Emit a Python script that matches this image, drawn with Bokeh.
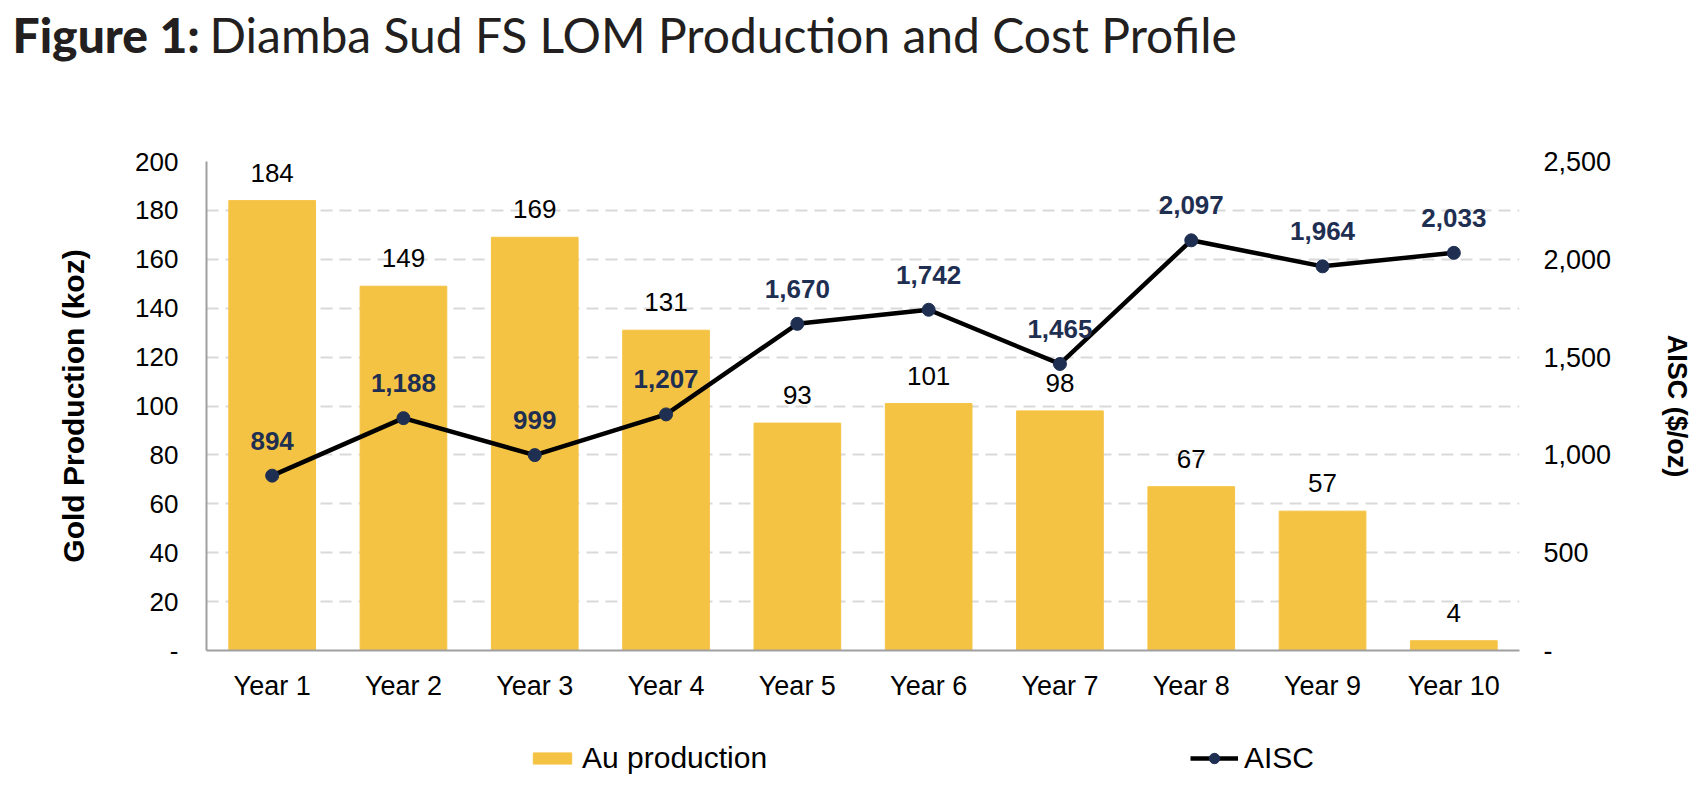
from bokeh.plotting import figure
from bokeh.models import (ColumnDataSource, FactorRange, Range1d, LinearAxis, FixedTicker,
                          NumeralTickFormatter, LabelSet, Legend, LegendItem)
from bokeh.layouts import column
from bokeh.core.properties import value
from bokeh.embed import file_html
from bokeh.resources import INLINE

# ---- data ----
years = ["Year 1", "Year 2", "Year 3", "Year 4", "Year 5",
         "Year 6", "Year 7", "Year 8", "Year 9", "Year 10"]
au_production = [184, 149, 169, 131, 93, 101, 98, 67, 57, 4]
aisc = [894, 1188, 999, 1207, 1670, 1742, 1465, 2097, 1964, 2033]
left_ticks = [0, 20, 40, 60, 80, 100, 120, 140, 160, 180, 200]
right_ticks = [0, 500, 1000, 1500, 2000, 2500]
title_bold = "Figure 1:"
title_rest = "Diamba Sud FS LOM Production and Cost Profile"
legend_labels = ["Au production", "AISC"]

FONT = "Liberation Sans"
GOLD = "#F5C344"
NAVY = "#1F2F52"
W = 1704


def bare(fig):
    fig.grid.visible = False
    fig.outline_line_color = None
    fig.min_border_left = 0
    fig.min_border_right = 0
    fig.min_border_top = 0
    fig.min_border_bottom = 0
    try:
        fig.frame_align = False
    except Exception:
        pass


# ---- title strip ----
t = figure(width=W, height=100, x_range=Range1d(0, W), y_range=Range1d(100, 0),
           toolbar_location=None, output_backend="svg",
           x_axis_location=None, y_axis_location=None, min_border=0)
bare(t)
t.text(x=[12], y=[34], text=[title_bold], text_font=value("Lato Black"), text_font_size="48px",
       text_color="#231F20", text_baseline="alphabetic")
t.text(x=[209], y=[34], text=[title_rest], text_font=value("Lato"), text_font_size="48px",
       text_color="#231F20", text_baseline="alphabetic")

# ---- main chart ----
src = ColumnDataSource(dict(
    year=years, au=au_production, aisc=aisc,
    au_txt=[str(v) for v in au_production],
    aisc_txt=[f"{v:,}" for v in aisc],
))

p = figure(width=W, height=603, x_range=FactorRange(*years, range_padding=0),
           y_range=Range1d(0, 200), toolbar_location=None, output_backend="svg",
           min_border_left=206, min_border_right=W - 1519, min_border_top=61,
           min_border_bottom=50)
p.outline_line_color = None
p.extra_y_ranges = {"aisc": Range1d(0, 2500)}
try:
    p.frame_align = False
except Exception:
    pass

bars = p.vbar(x="year", top="au", width=0.66, source=src, color=GOLD)
line = p.line(x="year", y="aisc", source=src, line_color="black", line_width=4.5,
              y_range_name="aisc")
dots = p.scatter(x="year", y="aisc", source=src, size=13, color=NAVY,
                 y_range_name="aisc")

# axes
p.xaxis.axis_line_color = "#A0A0A0"
p.xaxis.axis_line_width = 2
p.xaxis.major_tick_line_color = None
p.xaxis.minor_tick_line_color = None
p.xaxis.major_label_text_font = FONT
p.xaxis.major_label_text_font_size = "27px"
p.xaxis.major_label_text_color = "#000000"
p.xaxis.major_label_standoff = 14

ya = p.yaxis[0]
ya.ticker = FixedTicker(ticks=left_ticks)
ya.major_label_overrides = {0: "-"}
ya.axis_line_color = "#A0A0A0"
ya.axis_line_width = 2
ya.major_tick_line_color = None
ya.minor_tick_line_color = None
ya.major_label_text_font = FONT
ya.major_label_text_font_size = "26px"
ya.major_label_text_color = "#000000"
ya.major_label_standoff = 22
ya.axis_label = "Gold Production (koz)"
ya.axis_label_text_font = FONT
ya.axis_label_text_font_size = "30px"
ya.axis_label_text_font_style = "bold"
ya.axis_label_text_color = "#000000"
ya.axis_label_standoff = 42

ra = LinearAxis(y_range_name="aisc", ticker=FixedTicker(ticks=right_ticks),
                formatter=NumeralTickFormatter(format="0,0"))
ra.major_label_overrides = {0: "-"}
ra.axis_line_color = None
ra.major_tick_line_color = None
ra.minor_tick_line_color = None
ra.major_label_text_font = FONT
ra.major_label_text_font_size = "27px"
ra.major_label_text_color = "#000000"
ra.major_label_standoff = 18
ra.axis_label = "AISC ($/oz)"
ra.axis_label_text_font = FONT
ra.axis_label_text_font_size = "27px"
ra.axis_label_text_font_style = "bold"
ra.axis_label_text_color = "#000000"
ra.axis_label_standoff = 48
p.add_layout(ra, "right")

p.xgrid.visible = False
p.ygrid.ticker = FixedTicker(ticks=left_ticks[1:])
p.ygrid.grid_line_color = "#D9D9D9"
p.ygrid.grid_line_width = 2
p.ygrid.grid_line_dash = "12 7"

# data labels
p.add_layout(LabelSet(x="year", y="au", text="au_txt", source=src, text_align="center",
                      text_baseline="alphabetic", y_offset=19, text_font=value(FONT),
                      text_font_size="26px", text_color="#000000"))
p.add_layout(LabelSet(x="year", y="aisc", text="aisc_txt", source=src, text_align="center",
                      text_baseline="alphabetic", y_offset=26, y_range_name="aisc",
                      text_font=value(FONT), text_font_size="26px",
                      text_font_style="bold", text_color=NAVY))

# ---- legend strip: legend keys styled like the chart's series ----
lf = figure(width=W, height=83, x_range=Range1d(0, W), y_range=Range1d(0, 83),
            toolbar_location=None, output_backend="svg",
            x_axis_location=None, y_axis_location=None, min_border=0)
bare(lf)
# key proxies kept outside the visible range; only their legend swatches show
kb = lf.vbar(x=[-500], top=[-500], bottom=[-501], width=1, color=GOLD)
kl = lf.line(x=[-500, -499], y=[-500, -500], line_color="black", line_width=4.5)
ks = lf.scatter(x=[-500], y=[-500], size=13, color=NAVY)

common = dict(orientation="horizontal", padding=0, margin=0, glyph_width=48,
              label_standoff=6, label_text_font=FONT, label_text_font_size="30px",
              label_text_color="#000000", border_line_color=None,
              background_fill_alpha=0)
leg_au = Legend(items=[LegendItem(label=legend_labels[0], renderers=[kb])],
                location=(528, 11), glyph_height=14, **common)
leg_aisc = Legend(items=[LegendItem(label=legend_labels[1], renderers=[kl, ks])],
                  location=(1190, 11), glyph_height=26, **common)
lf.add_layout(leg_au, "center")
lf.add_layout(leg_aisc, "center")

layout = column(t, p, lf, spacing=0)
open("out.html", "w").write(file_html(layout, INLINE))
